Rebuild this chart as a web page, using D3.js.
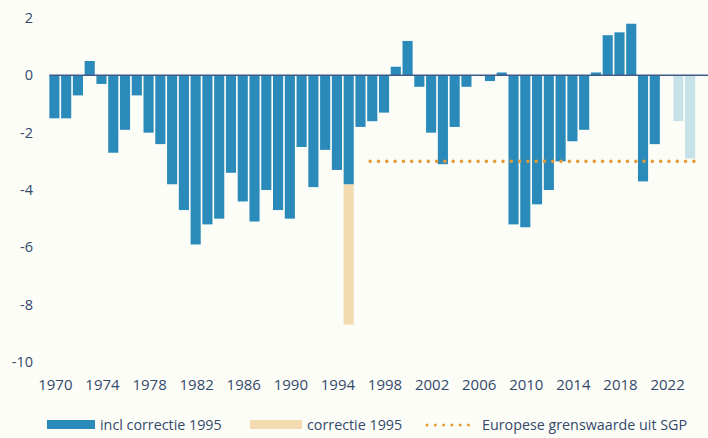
<!DOCTYPE html>
<html>
<head>
<meta charset="utf-8">
<script src="https://cdn.jsdelivr.net/npm/d3@7"></script>
<style>
  html, body { margin: 0; padding: 0; background: #fdfdf8; }
  svg { display: block; font-family: "Open Sans", sans-serif; }
  .lbl { fill: #33496b; }
</style>
</head>
<body>
<svg id="chart" width="708" height="438"></svg>
<script>
// begrotingssaldo (% bbp), 1970-2024
let years = d3.range(1970, 2025);
let saldo = [-1.5, -1.5, -0.7, 0.5, -0.3, -2.7, -1.9, -0.7, -2.0, -2.4,
             -3.8, -4.7, -5.9, -5.2, -5.0, -3.4, -4.4, -5.1, -4.0, -4.7,
             -5.0, -2.5, -3.9, -2.6, -3.3, -3.8, -1.8, -1.6, -1.3, 0.3,
             1.2, -0.4, -2.0, -3.1, -1.8, -0.4, 0, -0.2, 0.1, -5.2,
             -5.3, -4.5, -4.0, -3.0, -2.3, -1.9, 0.1, 1.4, 1.5, 1.8,
             -3.7, -2.4, null, -1.6, -2.9];
let ramingJaren = [2023, 2024];
let correctieJaar = 1995;
let correctieTot = -8.7;
let grensWaarde = -3;
let grensVan = 1997;
let yTicks = [2, 0, -2, -4, -6, -8, -10];
let xTickJaren = d3.range(1970, 2025, 4);
let legendLabels = ["incl correctie 1995", "correctie 1995", "Europese grenswaarde uit SGP"];

let colBlue = "#2a8bbb", colLight = "#c6e2e6", colTan = "#f3dbb0", colOrange = "#e39b3a";

let svg = d3.select("#chart");
let x = d3.scaleBand().domain(years).range([48.5, 696]).paddingInner(0.14).paddingOuter(0.07);
let y = d3.scaleLinear().domain([-10, 2]).range([362, 18]);

let data = years.map((yr, i) => ({year: yr, v: saldo[i]})).filter(d => d.v !== null && d.v !== 0);

// correctie 1995
svg.append("rect")
  .attr("x", x(correctieJaar)).attr("width", x.bandwidth())
  .attr("y", y(saldo[years.indexOf(correctieJaar)]))
  .attr("height", y(correctieTot) - y(saldo[years.indexOf(correctieJaar)]))
  .attr("fill", colTan);

svg.selectAll("rect.bar").data(data).enter().append("rect")
  .attr("class", "bar")
  .attr("x", d => x(d.year)).attr("width", x.bandwidth())
  .attr("y", d => y(Math.max(0, d.v)))
  .attr("height", d => Math.abs(y(d.v) - y(0)))
  .attr("fill", d => ramingJaren.includes(d.year) ? colLight : colBlue);

// nullijn
svg.append("line")
  .attr("x1", x(1970)).attr("x2", 708)
  .attr("y1", y(0)).attr("y2", y(0))
  .attr("stroke", "#3f5a88").attr("stroke-width", 1.5);

// grenswaarde
svg.append("line")
  .attr("x1", x(grensVan) + 3).attr("x2", 701)
  .attr("y1", y(grensWaarde)).attr("y2", y(grensWaarde))
  .attr("stroke", colOrange).attr("stroke-width", 3.6)
  .attr("stroke-linecap", "round").attr("stroke-dasharray", "0 8.3");

// y-as labels
svg.selectAll("text.yl").data(yTicks).enter().append("text")
  .attr("class", "lbl yl")
  .attr("x", 33).attr("y", d => y(d)).attr("dy", "0.35em")
  .attr("text-anchor", "end").style("font-size", "14.5px")
  .text(d => d);

// x-as labels
svg.selectAll("text.xl").data(xTickJaren).enter().append("text")
  .attr("class", "lbl xl")
  .attr("x", d => x(d) + x.bandwidth() / 2 + 1).attr("y", 390)
  .attr("text-anchor", "middle").style("font-size", "15px")
  .text(d => d);

// legenda
let lg = svg.append("g");
lg.append("rect").attr("x", 47).attr("y", 420).attr("width", 48).attr("height", 9).attr("fill", colBlue);
lg.append("rect").attr("x", 250).attr("y", 420).attr("width", 52).attr("height", 9).attr("fill", colTan);
lg.append("line").attr("x1", 427).attr("x2", 469).attr("y1", 425).attr("y2", 425)
  .attr("stroke", colOrange).attr("stroke-width", 3)
  .attr("stroke-linecap", "round").attr("stroke-dasharray", "0 8.3");
[[100, 0], [307, 1], [482, 2]].forEach(([lx, i]) => {
  lg.append("text").attr("class", "lbl").attr("x", lx).attr("y", 430)
    .style("font-size", "14.3px").text(legendLabels[i]);
});
</script>
</body>
</html>
